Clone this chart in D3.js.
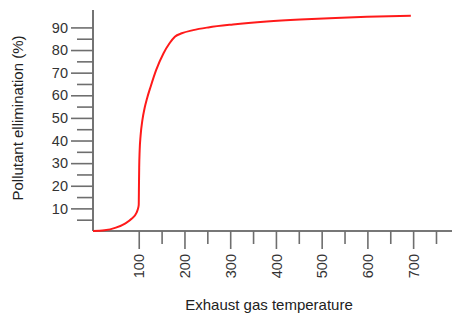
<!DOCTYPE html>
<html><head><meta charset="utf-8">
<script src="https://cdn.jsdelivr.net/npm/d3@7"></script>
<style>body{margin:0;background:#fff}svg{display:block}</style>
</head><body>
<svg id="c" width="455" height="313"></svg>
<script>
const temperature = [0, 25, 50, 70, 85, 95, 98, 100, 100.5, 101, 102, 104, 108, 113, 118, 126, 138, 154, 167, 179, 194, 219, 252, 306, 380, 453, 530, 599, 695];
const elimination = [0, 0.3, 1.5, 3.3, 5.5, 8, 9.6, 11.5, 20, 28, 35.5, 42, 49, 54.5, 58.5, 63.8, 71.1, 78.5, 82.9, 85.9, 87.4, 88.8, 90, 91.3, 92.6, 93.5, 94.2, 94.7, 95.2];
const xTickValues = [100, 200, 300, 400, 500, 600, 700];
const xMinorValues = [150, 250, 350, 450, 550, 650, 750];
const yTickValues = [10, 20, 30, 40, 50, 60, 70, 80, 90];
const yMinorValues = [5, 15, 25, 35, 45, 55, 65, 75, 85];
const xTitle = "Exhaust gas temperature";
const yTitle = "Pollutant ellimination (%)";

const svg = d3.select("#c");
const x0 = 93, y0 = 231;
const x = d3.scaleLinear().domain([0, 785]).range([x0, 452]);
const y = d3.scaleLinear().domain([0, 97.7]).range([y0, 10]);
const axisColor = "#6e6e6e";
const font = "Liberation Sans, Arial, sans-serif";

// X axis
const gx = svg.append("g").attr("transform", `translate(0,${y0})`);
gx.call(d3.axisBottom(x).tickValues(xTickValues).tickSize(18).tickPadding(5).tickFormat(d3.format("d")));
gx.append("g").call(d3.axisBottom(x).tickValues(xMinorValues).tickSize(13).tickFormat(""));
gx.selectAll(".domain").attr("d", `M${x0},0H452`);
gx.selectAll("line,path").attr("stroke", axisColor).attr("stroke-width", 1.6);
gx.selectAll("text").attr("transform", "rotate(-90)").attr("text-anchor", "end")
  .attr("x", -23).attr("y", 0).attr("dy", "0.35em")
  .style("font-family", font).style("font-size", "14.5px").attr("fill", "#333");

// Y axis
const gy = svg.append("g").attr("transform", `translate(${x0},0)`);
gy.call(d3.axisLeft(y).tickValues(yTickValues).tickSize(22).tickPadding(3).tickFormat(d3.format("d")));
gy.append("g").call(d3.axisLeft(y).tickValues(yMinorValues).tickSize(16).tickFormat(""));
gy.selectAll(".domain").attr("d", `M0,${y0}V10`);
gy.selectAll("line,path").attr("stroke", axisColor).attr("stroke-width", 1.6);
gy.selectAll("text").style("font-family", font).style("font-size", "14.5px").attr("fill", "#333");

// Titles
svg.append("text").attr("x", 269).attr("y", 310).attr("text-anchor", "middle")
  .style("font-family", font).style("font-size", "15px").attr("fill", "#222").text(xTitle);
svg.append("text").attr("transform", "translate(23,118) rotate(-90)").attr("text-anchor", "middle")
  .style("font-family", font).style("font-size", "15px").attr("fill", "#222").text(yTitle);

// Curve
const data = temperature.map((t, i) => [t, elimination[i]]);
svg.append("path").datum(data)
  .attr("fill", "none").attr("stroke", "#ff1a1a").attr("stroke-width", 2)
  .attr("d", d3.line().x(d => x(d[0])).y(d => y(d[1])).curve(d3.curveMonotoneX));
</script>
</body></html>
